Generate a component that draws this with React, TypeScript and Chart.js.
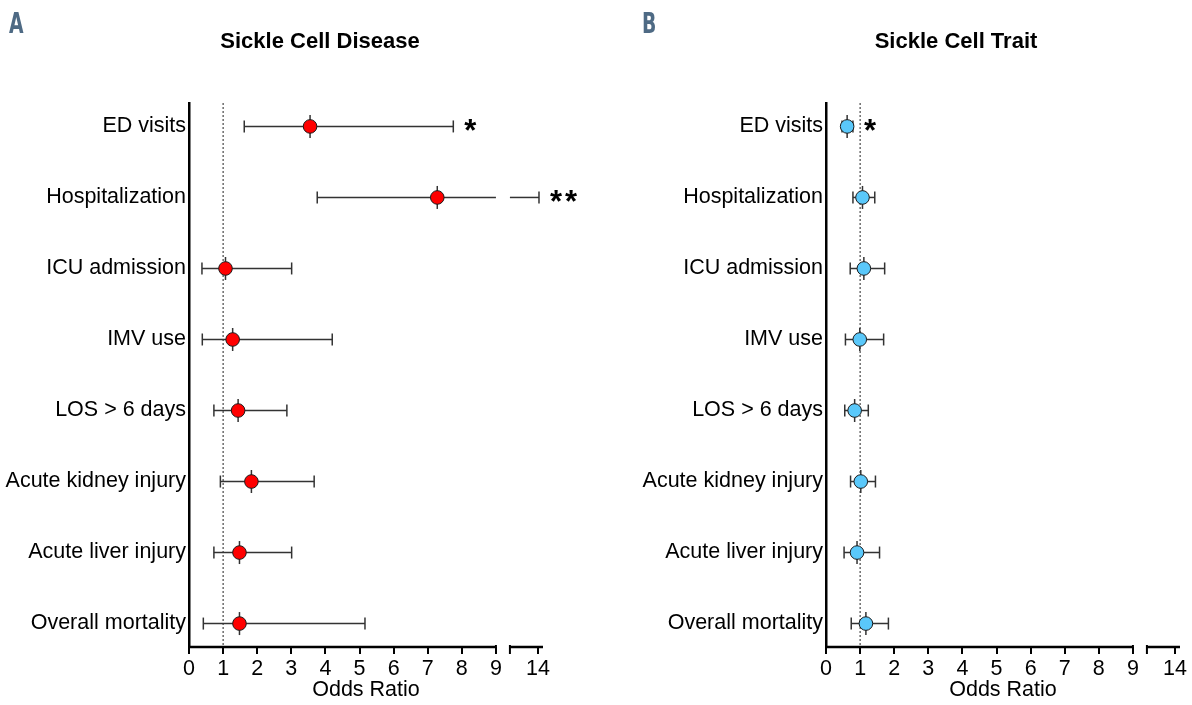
import React, { useEffect, useRef } from 'react';
import { Chart, registerables, LinearScale } from 'chart.js';

Chart.register(...registerables);

// ---------- DATA ----------
const categories = [
  'ED visits',
  'Hospitalization',
  'ICU admission',
  'IMV use',
  'LOS > 6 days',
  'Acute kidney injury',
  'Acute liver injury',
  'Overall mortality',
];

// Sickle Cell Disease (panel A)
const scdOddsRatio = [3.55, 7.28, 1.07, 1.28, 1.44, 1.83, 1.48, 1.48];
const scdLower = [1.62, 3.76, 0.38, 0.39, 0.73, 0.92, 0.73, 0.42];
const scdUpper = [7.75, 14.1, 3.01, 4.2, 2.87, 3.67, 3.01, 5.16];
const scdSignificance = ['*', '**', '', '', '', '', '', ''];

// Sickle Cell Trait (panel B)
const sctOddsRatio = [0.62, 1.07, 1.11, 0.99, 0.84, 1.02, 0.91, 1.17];
const sctLower = [0.47, 0.79, 0.71, 0.57, 0.55, 0.72, 0.53, 0.74];
const sctUpper = [0.79, 1.43, 1.72, 1.69, 1.24, 1.45, 1.57, 1.83];
const sctSignificance = ['*', '', '', '', '', '', '', ''];

const xTickValues = [0, 1, 2, 3, 4, 5, 6, 7, 8, 9, 14];
const referenceOR = 1;

// ---------- BROKEN AXIS ----------
const SEG1: [number, number] = [0, 9];
const SEG2: [number, number] = [11.2, 14.5];
const GAP = 0.41; // display units
const SEG2_SPAN = 0.97; // display units
const DISPLAY_MAX = SEG1[1] + GAP + SEG2_SPAN;

function toDisplay(v: number) {
  if (v <= SEG1[1]) return v;
  if (v < SEG2[0]) return SEG1[1] + (GAP * (v - SEG1[1])) / (SEG2[0] - SEG1[1]);
  return SEG1[1] + GAP + ((v - SEG2[0]) / (SEG2[1] - SEG2[0])) * SEG2_SPAN;
}
function fromDisplay(d: number) {
  if (d <= SEG1[1]) return d;
  if (d < SEG1[1] + GAP) return SEG1[1] + ((d - SEG1[1]) / GAP) * (SEG2[0] - SEG1[1]);
  return SEG2[0] + ((d - SEG1[1] - GAP) / SEG2_SPAN) * (SEG2[1] - SEG2[0]);
}

class BrokenLinearScale extends LinearScale {
  static id = 'brokenLinear';
  static defaults = LinearScale.defaults;
  getPixelForValue(value: number) {
    return this.getPixelForDecimal(toDisplay(value) / DISPLAY_MAX);
  }
  getValueForPixel(pixel: number) {
    return fromDisplay(this.getDecimalForPixel(pixel) * DISPLAY_MAX);
  }
}
Chart.register(BrokenLinearScale as any);

const FONT = '"Liberation Sans", Arial, Helvetica, sans-serif';
const LABEL_SIZE = 21.5;

type PanelProps = {
  left: number;
  width: number;
  yAxisWidth: number;
  rightPad: number;
  title: string;
  titleX: number;
  letter: string;
  letterX: number;
  oddsRatio: number[];
  lower: number[];
  upper: number[];
  significance: string[];
  color: string;
};

function ForestPanel(props: PanelProps) {
  const ref = useRef<HTMLCanvasElement | null>(null);
  useEffect(() => {
    const { oddsRatio, lower, upper, significance, color, title, titleX, letter, letterX } = props;

    const forestPlugin = {
      id: 'forest',
      beforeDatasetsDraw(chart: any) {
        const { ctx, chartArea } = chart;
        const x = chart.scales.x;
        const y = chart.scales.y;
        ctx.save();
        // reference line at OR = 1
        const xr = x.getPixelForValue(referenceOR);
        ctx.setLineDash([2, 2]);
        ctx.lineWidth = 1;
        ctx.strokeStyle = '#222';
        ctx.beginPath();
        ctx.moveTo(xr, chartArea.top);
        ctx.lineTo(xr, chartArea.bottom);
        ctx.stroke();
        ctx.setLineDash([]);

        // broken x-axis line
        ctx.strokeStyle = '#000';
        ctx.lineWidth = 2.5;
        const yb = chartArea.bottom;
        [SEG1, SEG2].forEach((seg, k) => {
          ctx.beginPath();
          ctx.moveTo(x.getPixelForValue(seg[0]) - (k === 0 ? 1 : 0), yb);
          ctx.lineTo(x.getPixelForValue(seg[1]), yb);
          ctx.stroke();
        });
        ctx.lineWidth = 2;
        const sx = x.getPixelForValue(SEG2[0]);
        ctx.beginPath();
        ctx.moveTo(sx, yb - 2);
        ctx.lineTo(sx, yb + 7);
        ctx.stroke();
        const ex = x.getPixelForValue(SEG1[1]);
        ctx.beginPath();
        ctx.moveTo(ex, yb - 2);
        ctx.lineTo(ex, yb);
        ctx.stroke();

        // error bars
        ctx.strokeStyle = '#333';
        ctx.lineWidth = 1.5;
        oddsRatio.forEach((or, i) => {
          const yp = y.getPixelForValue(i);
          const lo = lower[i];
          const hi = upper[i];
          [SEG1, SEG2].forEach((seg) => {
            const a = Math.max(lo, seg[0]);
            const b = Math.min(hi, seg[1]);
            if (b > a) {
              ctx.beginPath();
              ctx.moveTo(x.getPixelForValue(a), yp);
              ctx.lineTo(x.getPixelForValue(b), yp);
              ctx.stroke();
            }
          });
          [lo, hi].forEach((v) => {
            const px = x.getPixelForValue(v);
            ctx.beginPath();
            ctx.moveTo(px, yp - 6);
            ctx.lineTo(px, yp + 6);
            ctx.stroke();
          });
          const pc = x.getPixelForValue(or);
          ctx.beginPath();
          ctx.moveTo(pc, yp - 11.5);
          ctx.lineTo(pc, yp + 11.5);
          ctx.stroke();
        });
        ctx.restore();
      },
      afterDatasetsDraw(chart: any) {
        const { ctx } = chart;
        const x = chart.scales.x;
        const y = chart.scales.y;
        ctx.save();
        ctx.fillStyle = '#000';
        ctx.font = `bold 31px ${FONT}`;
        ctx.textAlign = 'left';
        ctx.textBaseline = 'alphabetic';
        significance.forEach((s, i) => {
          if (!s) return;
          const px = x.getPixelForValue(upper[i]) + 11;
          const yp = y.getPixelForValue(i);
          for (let k = 0; k < s.length; k++) {
            ctx.fillText(s[k], px + k * 15, yp + 15);
          }
        });
        ctx.restore();
      },
      afterDraw(chart: any) {
        const { ctx } = chart;
        ctx.save();
        ctx.fillStyle = '#000';
        ctx.font = `bold 22px ${FONT}`;
        ctx.textAlign = 'center';
        ctx.textBaseline = 'middle';
        ctx.fillText(title, titleX, 42);
        ctx.fillStyle = '#4e6a84';
        ctx.font = `bold 29px "Liberation Sans Narrow", "DejaVu Sans Condensed", ${FONT}`;
        ctx.textAlign = 'left';
        ctx.textBaseline = 'alphabetic';
        ctx.scale(0.72, 1);
        ctx.fillText(letter, letterX / 0.72, 33);
        ctx.restore();
      },
    };

    const chart = new Chart(ref.current as HTMLCanvasElement, {
      type: 'scatter',
      data: {
        datasets: [
          {
            data: oddsRatio.map((v, i) => ({ x: v, y: i })),
            backgroundColor: color,
            borderColor: '#1a1a1a',
            borderWidth: 1,
            pointRadius: 6.8,
            pointHoverRadius: 6.8,
          },
        ],
      },
      options: {
        responsive: false,
        animation: false,
        devicePixelRatio: 1,
        events: [],
        layout: { padding: { top: 103, left: 0, right: props.rightPad, bottom: 0 } },
        plugins: {
          legend: { display: false },
          tooltip: { enabled: false },
          title: { display: false },
        },
        scales: {
          x: {
            type: 'brokenLinear' as any,
            min: 0,
            max: SEG2[1],
            afterBuildTicks: (s: any) => {
              s.ticks = xTickValues.map((v) => ({ value: v }));
            },
            afterFit: (s: any) => {
              s.height = 58;
            },
            ticks: {
              autoSkip: false,
              maxRotation: 0,
              color: '#000',
              font: { family: FONT, size: LABEL_SIZE },
              padding: 2,
              callback: (v: any) => String(v),
            },
            grid: {
              display: true,
              drawOnChartArea: false,
              drawTicks: true,
              tickLength: 7,
              color: '#000',
              lineWidth: 2,
            },
            border: { display: false },
            title: {
              display: true,
              text: 'Odds Ratio',
              color: '#000',
              font: { family: FONT, size: LABEL_SIZE },
              padding: { top: 2, bottom: 2 },
            },
          } as any,
          y: {
            type: 'linear',
            reverse: true,
            min: -0.33,
            max: 7.33,
            afterBuildTicks: (s: any) => {
              s.ticks = categories.map((_, i) => ({ value: i }));
            },
            afterFit: (s: any) => {
              s.width = props.yAxisWidth;
            },
            ticks: {
              autoSkip: false,
              color: '#000',
              font: { family: FONT, size: LABEL_SIZE },
              padding: 3,
              callback: (v: any) => categories[v] ?? '',
            },
            grid: { display: false, drawTicks: false },
            border: { display: true, color: '#000', width: 2.5 },
          } as any,
        },
      },
      plugins: [forestPlugin],
    });
    return () => chart.destroy();
  }, []);

  return (
    <div style={{ position: 'absolute', left: props.left, top: 0, width: props.width, height: 705 }}>
      <canvas
        ref={ref}
        width={props.width}
        height={705}
        style={{ width: props.width, height: 705, display: 'block' }}
      />
    </div>
  );
}

export default function App() {
  return (
    <div
      style={{
        position: 'fixed',
        left: 0,
        top: 0,
        width: 1192,
        height: 705,
        background: '#fff',
        overflow: 'hidden',
      }}
    >
      <ForestPanel
        left={0}
        width={596}
        yAxisWidth={189}
        rightPad={53}
        title="Sickle Cell Disease"
        titleX={320}
        letter="A"
        letterX={9}
        oddsRatio={scdOddsRatio}
        lower={scdLower}
        upper={scdUpper}
        significance={scdSignificance}
        color="#ff0000"
      />
      <ForestPanel
        left={596}
        width={596}
        yAxisWidth={230}
        rightPad={12}
        title="Sickle Cell Trait"
        titleX={360}
        letter="B"
        letterX={46}
        oddsRatio={sctOddsRatio}
        lower={sctLower}
        upper={sctUpper}
        significance={sctSignificance}
        color="#5ac8fa"
      />
    </div>
  );
}
